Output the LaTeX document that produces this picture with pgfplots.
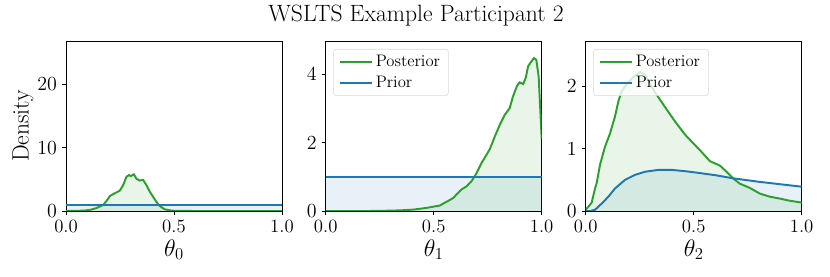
\documentclass[border=0pt]{standalone}
\usepackage{pgfplots}
\pgfplotsset{compat=1.18}
\definecolor{tabgreen}{HTML}{2CA02C}
\definecolor{tabblue}{HTML}{1F77B4}
\pgfplotsset{
  mystyle/.style={
    scale only axis, width=155.5pt, height=122.4pt,
    xmin=0, xmax=1, ymin=0,
    xtick={0,0.5,1}, xticklabels={0.0,0.5,1.0},
    tick align=outside, xtick pos=left, ytick pos=left,
    major tick length=3pt,
    axis line style={line width=0.6pt},
    every tick/.style={black, line width=0.6pt},
    tick label style={font=\fontsize{13.5}{15}\selectfont},
    xlabel style={font=\fontsize{16.5}{18}\selectfont, yshift=2pt},
    ylabel style={font=\fontsize{17}{19}\selectfont, yshift=-4pt},
    every axis plot/.append style={line width=1.4pt},
    legend cell align=left,
    legend style={at={(0.035,0.953)}, anchor=north west, draw=gray!30, rounded corners=2pt,
      fill=white, fill opacity=0.8, text opacity=1, font=\fontsize{12}{13}\selectfont,
      row sep=1pt, inner xsep=4pt, inner ysep=2.5pt},
    legend image code/.code={\draw[#1] (0pt,0pt) -- (23pt,0pt);},
  }
}
\begin{document}
\begin{tikzpicture}
\useasboundingbox (-47.52pt,-47.52pt) rectangle (550.08pt,151.92pt);
\begin{axis}[mystyle, at={(0pt,0pt)}, anchor=south west, ymax=26.8, ytick={0,10,20},
  xlabel={$\theta_0$}, ylabel={Density}]
\addplot[draw=none, fill=tabblue, fill opacity=0.1, forget plot] coordinates {(0,1) (1,1)} \closedcycle;
\addplot[draw=none, fill=tabgreen, fill opacity=0.1, forget plot] coordinates {
(0,0) (0.05,0.02) (0.08,0.06) (0.11,0.16) (0.14,0.45) (0.172,0.94) (0.19,1.7) (0.203,2.36) (0.226,2.8) (0.249,3.2) (0.265,4.1) (0.28,5.4) (0.292,5.67) (0.30,5.5) (0.314,5.78) (0.326,5.1) (0.341,4.8) (0.357,4.9) (0.372,4.1) (0.388,3.05) (0.403,2.25) (0.418,1.47) (0.434,0.79) (0.457,0.26) (0.49,0.05) (0.55,0.01) (0.6,0) (1,0)} \closedcycle;
\addplot[tabgreen] coordinates {
(0,0) (0.05,0.02) (0.08,0.06) (0.11,0.16) (0.14,0.45) (0.172,0.94) (0.19,1.7) (0.203,2.36) (0.226,2.8) (0.249,3.2) (0.265,4.1) (0.28,5.4) (0.292,5.67) (0.30,5.5) (0.314,5.78) (0.326,5.1) (0.341,4.8) (0.357,4.9) (0.372,4.1) (0.388,3.05) (0.403,2.25) (0.418,1.47) (0.434,0.79) (0.457,0.26) (0.49,0.05) (0.55,0.01) (0.6,0) (1,0)};
\addplot[tabblue] coordinates {(0,1) (1,1)};
\end{axis}
\begin{axis}[mystyle, at={(187pt,0pt)}, anchor=south west, ymax=4.97, ytick={0,2,4},
  xlabel={$\theta_1$}]
\addplot[draw=none, fill=tabblue, fill opacity=0.1, forget plot] coordinates {(0,1) (1,1)} \closedcycle;
\addplot[draw=none, fill=tabgreen, fill opacity=0.1, forget plot] coordinates {
(0,0) (0.2,0.0) (0.3,0.01) (0.35,0.02) (0.405,0.04) (0.466,0.09) (0.528,0.16) (0.574,0.32) (0.59,0.38) (0.612,0.52) (0.629,0.63) (0.652,0.72) (0.675,0.87) (0.698,1.10) (0.721,1.40) (0.744,1.64) (0.76,1.81) (0.783,2.18) (0.806,2.52) (0.829,2.81) (0.852,3.01) (0.867,3.35) (0.886,3.66) (0.898,3.76) (0.914,3.71) (0.926,3.89) (0.937,4.23) (0.952,4.37) (0.964,4.47) (0.975,4.42) (0.986,3.93) (0.995,2.76) (1.0,2.1)} \closedcycle;
\addplot[tabgreen] coordinates {
(0,0) (0.2,0.0) (0.3,0.01) (0.35,0.02) (0.405,0.04) (0.466,0.09) (0.528,0.16) (0.574,0.32) (0.59,0.38) (0.612,0.52) (0.629,0.63) (0.652,0.72) (0.675,0.87) (0.698,1.10) (0.721,1.40) (0.744,1.64) (0.76,1.81) (0.783,2.18) (0.806,2.52) (0.829,2.81) (0.852,3.01) (0.867,3.35) (0.886,3.66) (0.898,3.76) (0.914,3.71) (0.926,3.89) (0.937,4.23) (0.952,4.37) (0.964,4.47) (0.975,4.42) (0.986,3.93) (0.995,2.76) (1.0,2.1)};
\addlegendentry{Posterior}
\addplot[tabblue] coordinates {(0,1) (1,1)};
\addlegendentry{Prior}
\end{axis}
\begin{axis}[mystyle, at={(374.2pt,0pt)}, anchor=south west, ymax=2.73, ytick={0,1,2},
  xlabel={$\theta_2$}]
\addplot[draw=none, fill=tabblue, fill opacity=0.1, forget plot] coordinates {
(0,0) (0.02,0.0) (0.043,0.02) (0.074,0.12) (0.105,0.23) (0.135,0.36) (0.182,0.50) (0.228,0.58) (0.274,0.63) (0.336,0.66) (0.398,0.66) (0.459,0.64) (0.505,0.62) (0.6,0.575) (0.682,0.525) (0.8,0.47) (0.9,0.43) (1.0,0.39)} \closedcycle;
\addplot[draw=none, fill=tabgreen, fill opacity=0.1, forget plot] coordinates {
(0,0.03) (0.005,0.04) (0.02,0.1) (0.028,0.14) (0.043,0.36) (0.051,0.45) (0.066,0.74) (0.089,1.03) (0.112,1.24) (0.135,1.51) (0.151,1.76) (0.166,1.92) (0.19,2.04) (0.22,2.15) (0.251,2.23) (0.274,2.19) (0.30,2.03) (0.32,1.91) (0.367,1.67) (0.413,1.44) (0.459,1.23) (0.497,1.09) (0.528,0.98) (0.575,0.80) (0.621,0.73) (0.652,0.63) (0.682,0.525) (0.713,0.44) (0.76,0.37) (0.806,0.28) (0.852,0.23) (0.898,0.20) (0.944,0.165) (1.0,0.135)} \closedcycle;
\addplot[tabgreen] coordinates {
(0,0.03) (0.005,0.04) (0.02,0.1) (0.028,0.14) (0.043,0.36) (0.051,0.45) (0.066,0.74) (0.089,1.03) (0.112,1.24) (0.135,1.51) (0.151,1.76) (0.166,1.92) (0.19,2.04) (0.22,2.15) (0.251,2.23) (0.274,2.19) (0.30,2.03) (0.32,1.91) (0.367,1.67) (0.413,1.44) (0.459,1.23) (0.497,1.09) (0.528,0.98) (0.575,0.80) (0.621,0.73) (0.652,0.63) (0.682,0.525) (0.713,0.44) (0.76,0.37) (0.806,0.28) (0.852,0.23) (0.898,0.20) (0.944,0.165) (1.0,0.135)};
\addlegendentry{Posterior}
\addplot[tabblue] coordinates {
(0,0) (0.02,0.0) (0.043,0.02) (0.074,0.12) (0.105,0.23) (0.135,0.36) (0.182,0.50) (0.228,0.58) (0.274,0.63) (0.336,0.66) (0.398,0.66) (0.459,0.64) (0.505,0.62) (0.6,0.575) (0.682,0.525) (0.8,0.47) (0.9,0.43) (1.0,0.39)};
\addlegendentry{Prior}
\end{axis}
\node[anchor=base, font=\fontsize{17}{20}\selectfont] at (252pt,136.5pt) {WSLTS Example Participant 2};
\end{tikzpicture}
\end{document}
